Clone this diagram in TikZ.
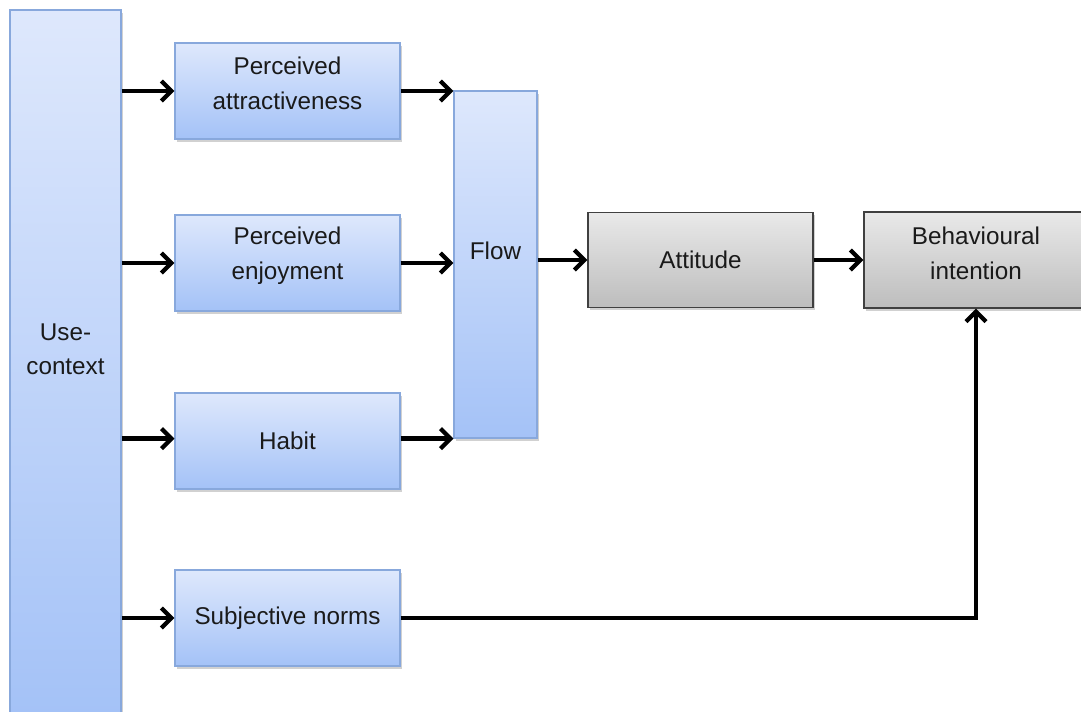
\documentclass[tikz,border=0pt]{standalone}
\usepackage{fontspec}
\setmainfont{Liberation Sans}
\usetikzlibrary{arrows.meta,shadows}
\definecolor{bluetop}{HTML}{DEE8FC}
\definecolor{bluebot}{HTML}{A4C2F7}
\definecolor{blueline}{HTML}{88A8DC}
\definecolor{graytop}{HTML}{E9E9E9}
\definecolor{graybot}{HTML}{BDBDBD}
\definecolor{grayline}{HTML}{404040}
\definecolor{txtcol}{HTML}{1A1A1A}
\tikzset{
  txt/.style={font=\fontsize{13.8}{19.6}\selectfont, align=center, text=txtcol},
  shadowed/.style={drop shadow={shadow xshift=0.03cm, shadow yshift=-0.05cm, opacity=0.18, fill=black}},
  bluebox/.style={shadowed, draw=blueline, line width=0.6pt, top color=bluetop, bottom color=bluebot, inner sep=0pt},
  graybox/.style={shadowed, draw=grayline, line width=0.8pt, top color=graytop, bottom color=graybot, inner sep=0pt},
  wide/.style={minimum width=4.5cm, minimum height=1.92cm},
  arr/.style={line width=0.085cm, -{Straight Barb[length=0.2cm,width=0.4cm]}}
}
\begin{document}
\begin{tikzpicture}
\useasboundingbox (0,0) rectangle (21.62,-14.22);
\begin{scope}
\clip (0,0) rectangle (21.62,-14.22);
% boxes
\node[bluebox, minimum width=2.22cm, minimum height=14.1cm,
      label={[txt,yshift=0.26cm]center:Use-\\context}] (uc) at (1.31,-7.25) {};
\node[bluebox, wide, label={[txt,yshift=0.15cm]center:Perceived\\attractiveness}] (pa) at (5.75,-1.82) {};
\node[bluebox, wide, label={[txt,yshift=0.15cm]center:Perceived\\enjoyment}] (pe) at (5.75,-5.26) {};
\node[bluebox, wide, label={[txt]center:Habit}] (hab) at (5.75,-8.82) {};
\node[bluebox, wide, label={[txt]center:Subjective norms}] (sn) at (5.75,-12.36) {};
\node[bluebox, minimum width=1.66cm, minimum height=6.94cm,
      label={[txt,yshift=0.27cm]center:Flow}] (flow) at (9.91,-5.29) {};
\node[graybox, minimum width=4.5cm, minimum height=1.9cm, label={[txt]center:Attitude}] (att) at (14.01,-5.2) {};
\node[graybox, minimum width=4.48cm, minimum height=1.92cm,
      label={[txt,yshift=0.13cm]center:Behavioural\\intention}] (bi) at (19.52,-5.2) {};
% connectors
\draw[arr] (uc.east |- pa.west) -- (pa.west);
\draw[arr] (uc.east |- pe.west) -- (pe.west);
\draw[arr] (uc.east |- flow.south) -- (hab.west |- flow.south);
\draw[arr] (uc.east |- sn.west) -- (sn.west);
\draw[arr] (pa.east) -- (flow.west |- pa.east);
\draw[arr] (pe.east) -- (flow.west |- pe.east);
\draw[arr] (hab.east |- flow.south) -- (flow.south west);
\draw[arr] (flow.east |- att.west) -- (att.west);
\draw[arr] (att.east) -- (bi.west);
\draw[arr] (sn.east) -| (bi.south);
\end{scope}
\end{tikzpicture}
\end{document}
